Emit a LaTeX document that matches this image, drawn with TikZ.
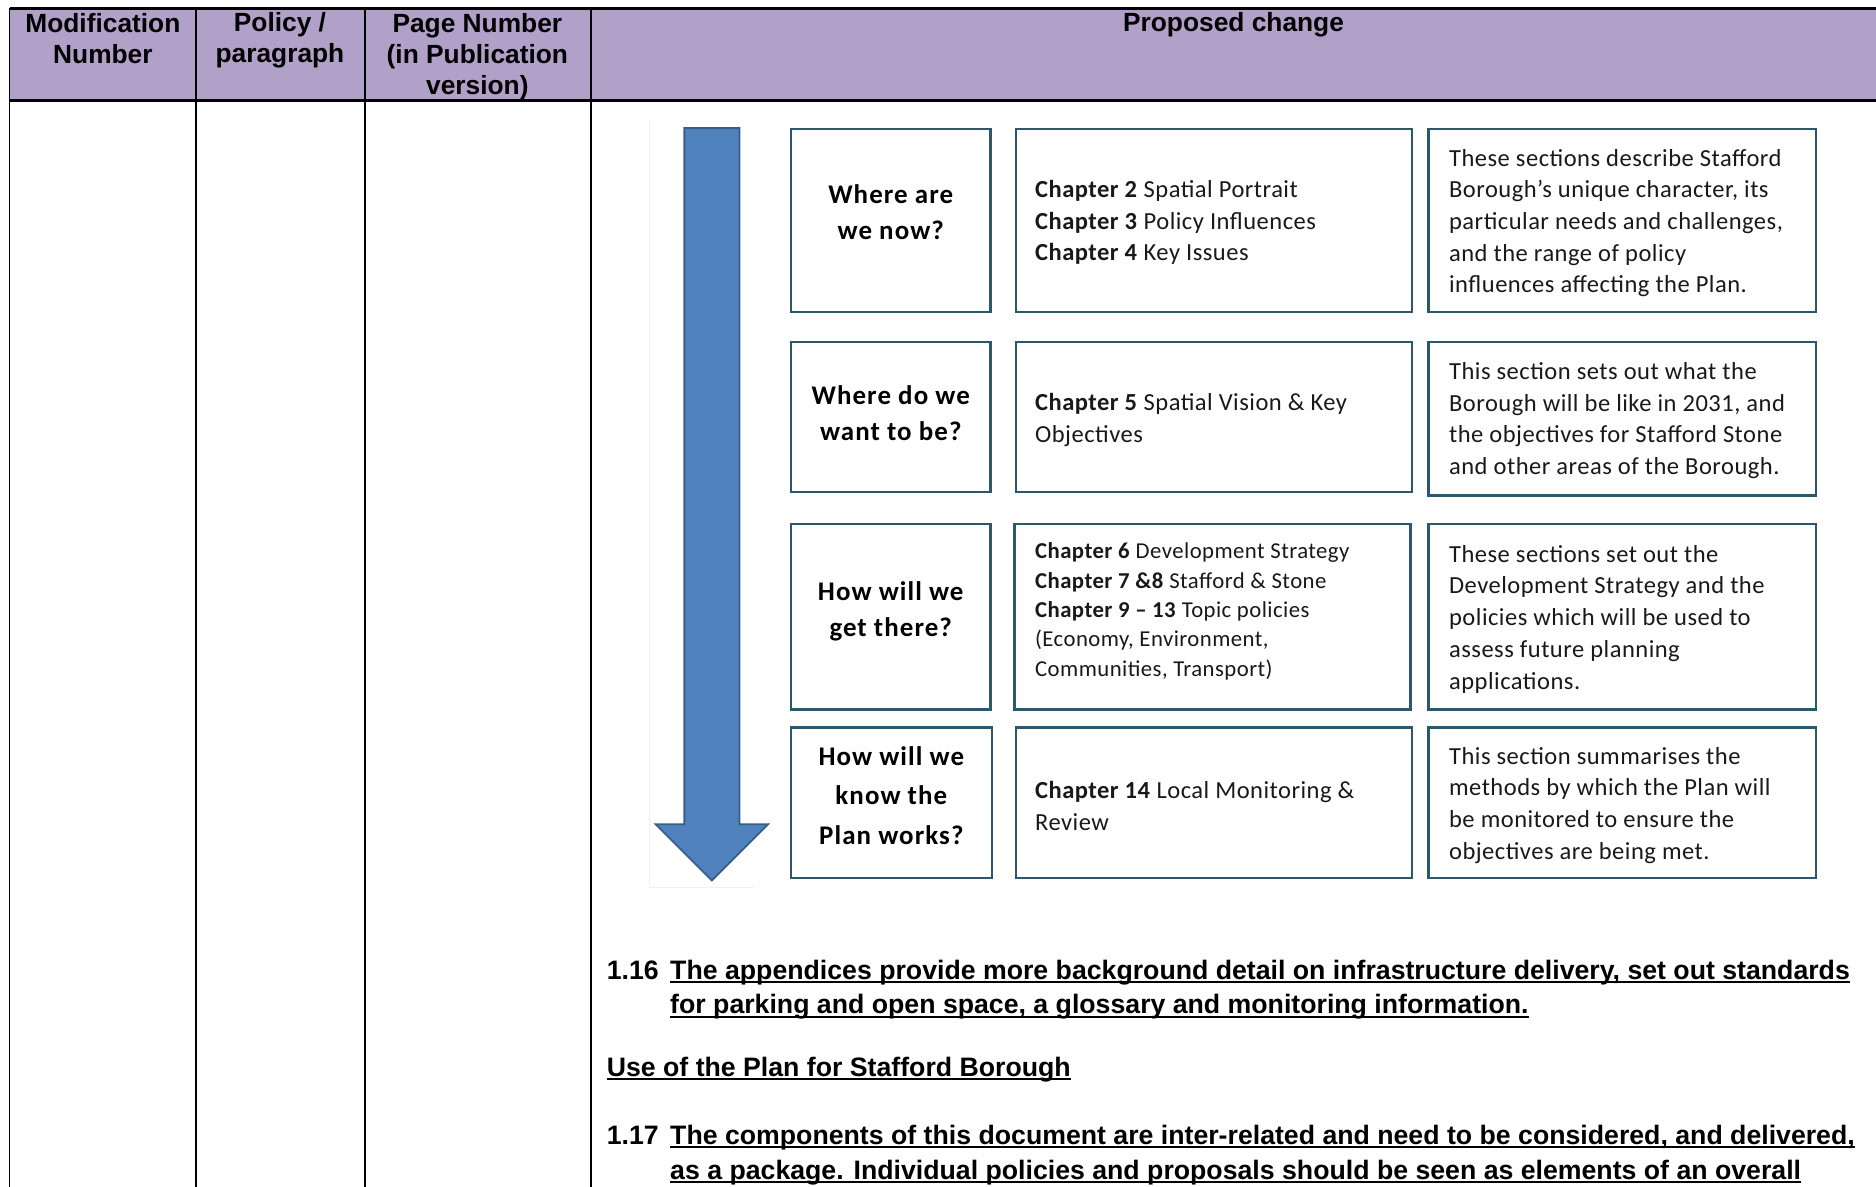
\documentclass[tikz,border=0pt]{standalone}
\usepackage{fontspec}
\setmainfont{Liberation Sans}
\newfontfamily\calfont[LetterSpace=2]{Carlito}
\newfontfamily\calq[LetterSpace=4]{Carlito}
\definecolor{hdrpurple}{RGB}{177,160,199}
\definecolor{arrowfill}{RGB}{79,129,189}
\definecolor{arrowline}{RGB}{56,93,138}
\definecolor{boxline}{RGB}{45,88,108}
\newcommand\myul[1]{\setbox0\hbox{#1}\rlap{\rule[-3.4pt]{\wd0}{1.7pt}}\box0}
\tikzset{
  hdr/.style={font=\fontsize{22}{26}\selectfont\bfseries, align=center, inner sep=0pt},
  grid/.style={line width=1.5pt, black},
  boxs/.style={draw=boxline, line width=2pt, fill=white, inner sep=0pt},
  qtext/.style={inner sep=0pt, align=center, font=\calq\fontsize{22.5}{30}\selectfont\bfseries},
  ctext/.style={inner sep=0pt, align=left, anchor=west, text=black!90, font=\calfont\fontsize{20.5}{26.5}\selectfont},
  btxt/.style={font=\fontsize{22.3}{26}\selectfont\bfseries, inner sep=0pt, anchor=base west},
}
\begin{document}
\begin{tikzpicture}[x=1pt,y=-1pt]
\useasboundingbox (0,0) rectangle (1568,992);
% header band
\fill[hdrpurple] (8,7) rectangle (1568,84);
\draw[line width=2.5pt] (8,7) -- (1568,7);
\draw[line width=2pt] (8,84) -- (1568,84);
\foreach \x in {8,164,305,494} \draw[grid] (\x,7) -- (\x,992);
% header texts
\node[hdr] (h1) at (86,32.5) {Modification\\Number};
\node[hdr] (h2) at (234,34) {Policy /\\paragraph};
\node[hdr] (h3) at (399,47.5) {Page Number\\(in Publication\\version)};
\node[hdr] (h4) at (1031,21) {Proposed change};
% faint frame of the pasted figure
\draw[black!6, line width=1pt] (543,100) -- (543,742) -- (630,742);
% arrow
\draw[arrowline, fill=arrowfill, line width=1.5pt, line join=miter]
  (572,107) -- (618,107) -- (618,689) -- (642,689) -- (595,736) -- (548,689) -- (572,689) -- cycle;
% row 1
\node[boxs, minimum width=167pt, minimum height=153pt] (q1) at (744.5,184.5) {};
\node[qtext] (q1t) at (744.5,177) {Where are\\we now?};
\node[boxs, minimum width=331pt, minimum height=153pt] (c1) at (1014.5,184.5) {};
\node[ctext] (c1t) at (865,186)
  {\textbf{Chapter 2} Spatial Portrait\\\textbf{Chapter 3} Policy Influences\\\textbf{Chapter 4} Key Issues};
\node[boxs, minimum width=324pt, minimum height=153pt] (d1) at (1356,184.5) {};
\node[ctext] (d1t) at (1211,186.5)
  {These sections describe Stafford\\Borough’s unique character, its\\particular needs and challenges,\\and the range of policy\\influences affecting the Plan.};
% row 2
\node[boxs, minimum width=167pt, minimum height=125pt] (q2) at (744.5,348.5) {};
\node[qtext] (q2t) at (744.5,345) {Where do we\\want to be?};
\node[boxs, minimum width=331pt, minimum height=125pt] (c2) at (1014.5,348.5) {};
\node[ctext] (c2t) at (865,351) {\textbf{Chapter 5} Spatial Vision \& Key\\Objectives};
\node[boxs, minimum width=324pt, minimum height=128pt] (d2) at (1356,350) {};
\node[ctext] (d2t) at (1211,351.5)
  {This section sets out what the\\Borough will be like in 2031, and\\the objectives for Stafford Stone\\and other areas of the Borough.};
% row 3
\node[boxs, minimum width=167pt, minimum height=155pt] (q3) at (744.5,515.5) {};
\node[qtext] (q3t) at (744.5,511) {How will we\\get there?};
\node[boxs, minimum width=331pt, minimum height=155pt] (c3) at (1013.5,515.5) {};
\node[ctext, font=\calfont\fontsize{19}{24.5}\selectfont] (c3t) at (865,511)
  {\textbf{Chapter 6} Development Strategy\\\textbf{Chapter 7 \&8} Stafford \& Stone\\\textbf{Chapter 9 – 13} Topic policies\\(Economy, Environment,\\Communities, Transport)};
\node[boxs, minimum width=324pt, minimum height=155pt] (d3) at (1356,515.5) {};
\node[ctext] (d3t) at (1211,517.5)
  {These sections set out the\\Development Strategy and the\\policies which will be used to\\assess future planning\\applications.};
% row 4
\node[boxs, minimum width=168pt, minimum height=126pt] (q4) at (745,671) {};
\node[qtext, font=\calq\fontsize{22.5}{33}\selectfont\bfseries] (q4t) at (745,665) {How will we\\know the\\Plan works?};
\node[boxs, minimum width=331pt, minimum height=126pt] (c4) at (1014.5,671) {};
\node[ctext] (c4t) at (865,673.5) {\textbf{Chapter 14} Local Monitoring \&\\Review};
\node[boxs, minimum width=324pt, minimum height=126pt] (d4) at (1356,671) {};
\node[ctext] (d4t) at (1211,673)
  {This section summarises the\\methods by which the Plan will\\be monitored to ensure the\\objectives are being met.};
% bottom text
\node[btxt] (n116) at (507,818.5) {1.16};
\node[btxt] (t116a) at (560,818.5) {\myul{The appendices provide more background detail on infrastructure delivery, set out standards}};
\node[btxt] (t116b) at (560,847.5) {\myul{for parking and open space, a glossary and monitoring information.}};
\node[btxt] (use) at (507,899.5) {\myul{Use of the Plan for Stafford Borough}};
\node[btxt] (n117) at (507,956.5) {1.17};
\node[btxt] (t117a) at (560,956.5) {\myul{The components of this document are inter-related and need to be considered, and delivered,}};
\node[btxt] (t117b) at (560,985.5) {\myul{as a package. Individual policies and proposals should be seen as elements of an overall}};
\end{tikzpicture}
\end{document}
